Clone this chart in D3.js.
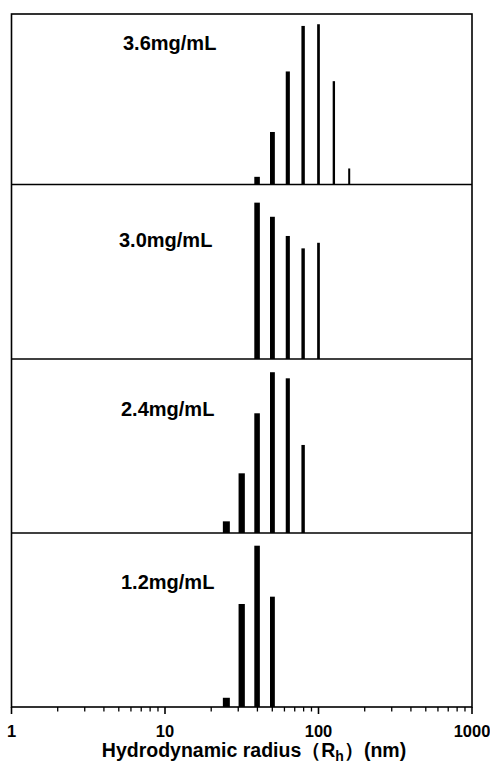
<!DOCTYPE html>
<html>
<head>
<meta charset="utf-8">
<script src="https://cdn.jsdelivr.net/npm/d3@7"></script>
<style>
  body { margin: 0; background: #fff; }
  text { font-family: "Liberation Sans", Arial, sans-serif; font-weight: bold; fill: #000; }
</style>
</head>
<body>
<div id="chart"></div>
<script>
// bin centres (nm), 10 bins per decade
const bins = [25.1, 31.6, 39.8, 50.1, 63.1, 79.4, 100, 125.9, 158.5];
// concentrations, top panel first
const concLabels = ["3.6mg/mL", "3.0mg/mL", "2.4mg/mL", "1.2mg/mL"];
// relative intensity (%) per bin, null = no bar
const int36 = [null, null, 4.5, 30.8, 66.3, 93.0, 94.0, 60.6, 9.4];
const int30 = [null, null, 89.6, 81.5, 70.5, 63.4, 66.6, null, null];
const int24 = [6.7, 34.3, 68.8, 92.4, 88.9, 50.6, null, null, null];
const int12 = [5.3, 59.2, 92.7, 63.4, null, null, null, null, null];
const xTicks = [1, 10, 100, 1000];

const series = [int36, int30, int24, int12];

const width = 490, height = 763;
const svg = d3.select("#chart").append("svg")
    .attr("width", width)
    .attr("height", height);

const x = d3.scaleLog().domain([1, 1000]).range([11.5, 472]);
// panel edges (top of each panel, then bottom axis)
const edges = [14, 184.5, 359, 533, 707];
// bars get thinner toward larger sizes
const barW = d3.scaleLog().domain([25, 100, 160]).range([7, 2.7, 2]);
const labelX = [123, 119, 121, 121];
const labelDy = [36, 62, 57, 56];

series.forEach(function (vals, p) {
    const top = edges[p], bottom = edges[p + 1];
    const y = d3.scaleLinear().domain([0, 100]).range([bottom, top]);
    const g = svg.append("g");
    const data = bins.map((b, i) => ({ r: b, v: vals[i] })).filter(d => d.v != null);

    g.selectAll("rect")
        .data(data)
        .enter().append("rect")
        .attr("x", d => x(d.r) - barW(d.r) / 2)
        .attr("width", d => barW(d.r))
        .attr("y", d => y(d.v))
        .attr("height", d => y(0) - y(d.v))
        .attr("fill", "#000");

    g.append("text")
        .attr("x", labelX[p])
        .attr("y", top + labelDy[p])
        .style("font-size", "20px")
        .text(concLabels[p]);
});

// frame and panel dividers
svg.append("rect")
    .attr("x", x(1)).attr("y", edges[0])
    .attr("width", x(1000) - x(1)).attr("height", edges[4] - edges[0])
    .attr("fill", "none").attr("stroke", "#000").attr("stroke-width", 1.6);
svg.selectAll("line.div")
    .data(edges.slice(1, 4))
    .enter().append("line")
    .attr("class", "div")
    .attr("x1", x(1)).attr("x2", x(1000))
    .attr("y1", d => d).attr("y2", d => d)
    .attr("stroke", "#000").attr("stroke-width", 1.6);

// bottom axis: major ticks at decades, minor at 2..9
const minor = [];
[1, 10, 100].forEach(d => { for (let k = 2; k < 10; k++) minor.push(d * k); });
const axisG = svg.append("g").attr("transform", "translate(0," + edges[4] + ")");
axisG.selectAll("line.minor")
    .data(minor)
    .enter().append("line")
    .attr("x1", d => x(d)).attr("x2", d => x(d))
    .attr("y1", 0).attr("y2", 4.5)
    .attr("stroke", "#000").attr("stroke-width", 1.3);
axisG.selectAll("line.major")
    .data(xTicks)
    .enter().append("line")
    .attr("x1", d => x(d)).attr("x2", d => x(d))
    .attr("y1", 0).attr("y2", 7)
    .attr("stroke", "#000").attr("stroke-width", 1.6);
axisG.selectAll("text.tick")
    .data(xTicks)
    .enter().append("text")
    .attr("x", d => x(d))
    .attr("y", 30)
    .attr("text-anchor", "middle")
    .style("font-size", "16.5px")
    .text(d => d);

const title = svg.append("text")
    .attr("x", 254)
    .attr("y", 757)
    .attr("text-anchor", "middle")
    .style("font-size", "19.5px");
title.append("tspan").text("Hydrodynamic radius（R");
title.append("tspan").attr("dy", 4).style("font-size", "14px").text("h");
title.append("tspan").attr("dy", -4).text("）(nm)");
</script>
</body>
</html>
